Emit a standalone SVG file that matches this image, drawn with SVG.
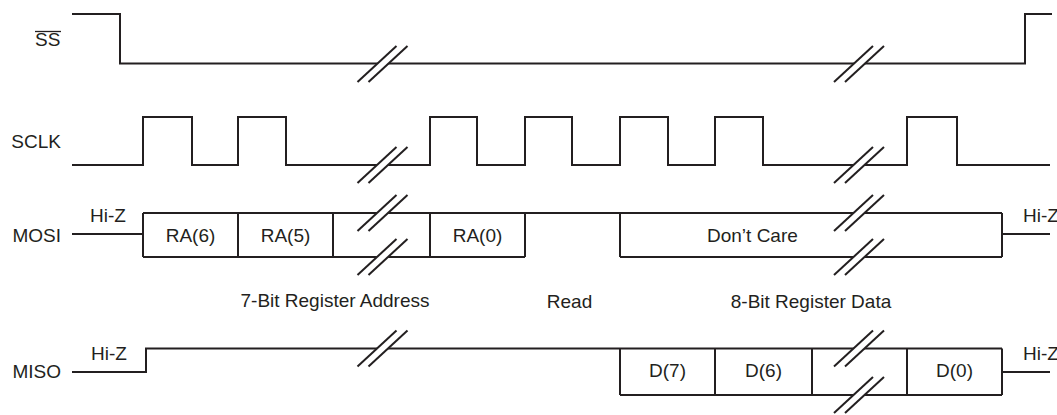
<svg xmlns="http://www.w3.org/2000/svg" xmlns:xlink="http://www.w3.org/1999/xlink" width="1057" height="415" viewBox="0 0 1057 415">
<style>
.sig{fill:none;stroke:#231f20;stroke-width:2;stroke-linejoin:miter;stroke-linecap:butt}
.t{font-family:"Liberation Sans",Arial,sans-serif;font-size:19px;fill:#231f20}
.m{text-anchor:middle}
.e{text-anchor:end}
</style>
<defs>
<g id="brk">
<polygon points="-10.5,4.5 1.5,4.5 10.5,-4.5 -1.5,-4.5" fill="#ffffff" stroke="none"/>
<line x1="-25" y1="18" x2="14" y2="-18" stroke="#231f20" stroke-width="2"/>
<line x1="-14" y1="18" x2="25" y2="-18" stroke="#231f20" stroke-width="2"/>
</g>
</defs>
<rect width="1057" height="415" fill="#ffffff"/>
<g id="ss">
<path class="sig" d="M72,14 H120 V63.5 H1025 V14 H1052"/>
<text class="t" x="35" y="46">SS</text>
<line x1="35" y1="31.5" x2="61" y2="31.5" stroke="#231f20" stroke-width="1.3"/>
</g>
<g id="sclk">
<path class="sig" d="M72,165 H143 V117 H192 V165 H238 V117 H286 V165 H430 V117 H477 V165 H525 V117 H572 V165 H620 V117 H668 V165 H715 V117 H763 V165 H907 V117 H957 V165 H1050"/>
<text class="t e" x="61" y="148">SCLK</text>
</g>
<g id="mosi">
<path class="sig" d="M72,234 H143 M143,213 H1002 M143,257 H525 M620,257 H1002 M143,213 V257 M238,213 V257 M333,213 V257 M430,213 V257 M525,213 V257 M620,213 V257 M1002,213 V257 M1002,234 H1050"/>
<text class="t e" x="61" y="241.5">MOSI</text>
<text class="t" x="90" y="221.5">Hi-Z</text>
<text class="t" x="1023" y="222">Hi-Z</text>
<text class="t m" x="190.5" y="241.5">RA(6)</text>
<text class="t m" x="285.5" y="241.5">RA(5)</text>
<text class="t m" x="477.5" y="241.5">RA(0)</text>
<text class="t" x="707" y="241.5">Don’t Care</text>
</g>
<g id="labels">
<text class="t m" x="335" y="306.5">7-Bit Register Address</text>
<text class="t m" x="569.5" y="308">Read</text>
<text class="t m" x="811" y="308">8-Bit Register Data</text>
</g>
<g id="miso">
<path class="sig" d="M72,372 H146 V348.5 H1002 M620,395 H1002 M620,348.5 V395 M715,348.5 V395 M812,348.5 V395 M907,348.5 V395 M1002,348.5 V395 M1002,372 H1050"/>
<text class="t e" x="61" y="378">MISO</text>
<text class="t" x="91" y="360">Hi-Z</text>
<text class="t" x="1023" y="360">Hi-Z</text>
<text class="t m" x="667.5" y="377">D(7)</text>
<text class="t m" x="763.5" y="377">D(6)</text>
<text class="t m" x="954.5" y="377">D(0)</text>
</g>
<g id="connectors">
<use xlink:href="#brk" transform="translate(382.5,64)"/>
<use xlink:href="#brk" transform="translate(859,64)"/>
<use xlink:href="#brk" transform="translate(382.5,165)"/>
<use xlink:href="#brk" transform="translate(859,165)"/>
<use xlink:href="#brk" transform="translate(382.5,213)"/>
<use xlink:href="#brk" transform="translate(382.5,257)"/>
<use xlink:href="#brk" transform="translate(859,213)"/>
<use xlink:href="#brk" transform="translate(859,257)"/>
<use xlink:href="#brk" transform="translate(382.5,348.5)"/>
<use xlink:href="#brk" transform="translate(859,348.5)"/>
<use xlink:href="#brk" transform="translate(859,395)"/>
</g>
</svg>
